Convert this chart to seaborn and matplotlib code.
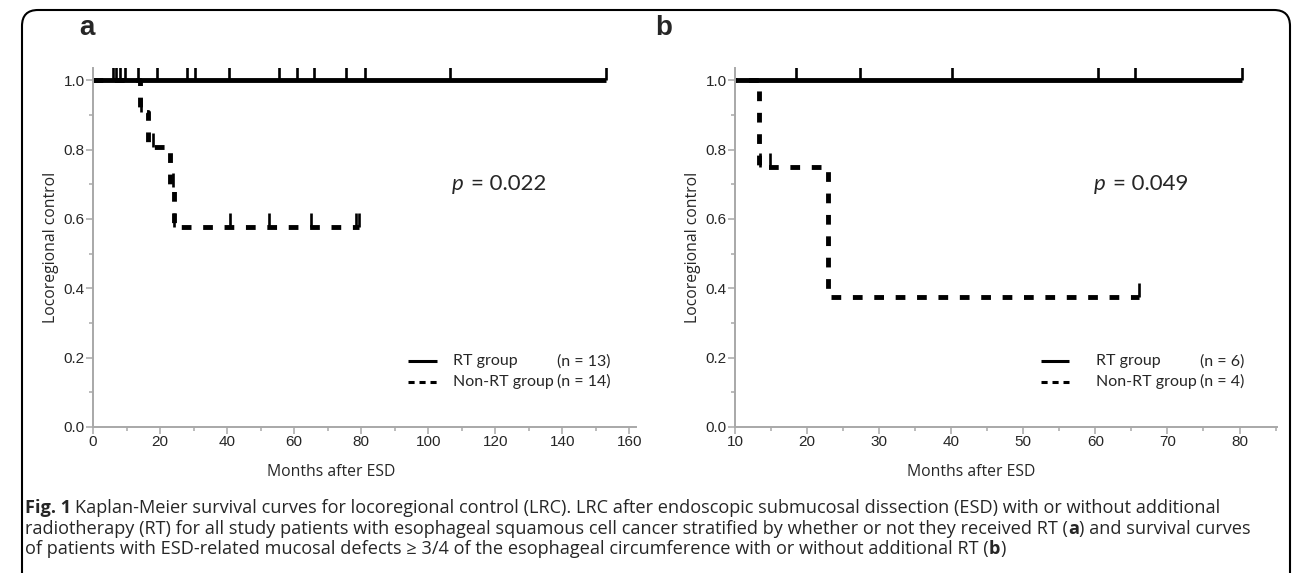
import numpy as np
import pandas as pd
import matplotlib
matplotlib.use("Agg")
import matplotlib.pyplot as plt
import seaborn as sns
from matplotlib.patches import FancyBboxPatch
from matplotlib.transforms import IdentityTransform
from matplotlib.ticker import MultipleLocator, FormatStrFormatter

# panel a: all patients
a_rt_time = [0, 153]
a_rt_surv = [1.0, 1.0]
a_rt_cens = [7, 13.5, 19, 28, 30.5, 40.5, 55.5, 61, 66, 75.5, 81, 106.5, 153]
a_non_time = [0, 13.9, 16.5, 23.0, 24.2, 79.3]
a_non_surv = [1.0, 0.909, 0.808, 0.693, 0.577, 0.577]
a_non_cens = [6, 8, 9.5, 14.2, 17.8, 23.8, 24.2, 40.9, 52.6, 65, 78.5, 79.3]
a_n = {"RT": 13, "Non-RT": 14}
a_p = "0.022"

# panel b: mucosal defects >= 3/4
b_rt_time = [0, 80.3]
b_rt_surv = [1.0, 1.0]
b_rt_cens = [18.5, 27.4, 40.1, 60.3, 65.5, 80.3]
b_non_time = [0, 13.3, 22.9, 66]
b_non_surv = [1.0, 0.75, 0.375, 0.375]
b_non_cens = [13.4, 14.9, 66]
b_n = {"RT": 6, "Non-RT": 4}
b_p = "0.049"

caption = [
    "Kaplan-Meier survival curves for locoregional control (LRC). LRC after endoscopic submucosal dissection (ESD) with or without additional",
    "radiotherapy (RT) for all study patients with esophageal squamous cell cancer stratified by whether or not they received RT (",
    "of patients with ESD-related mucosal defects \u2265 3/4 of the esophageal circumference with or without additional RT (",
]

sns.set_style("white")
plt.rcParams["font.family"] = ["Liberation Sans", "DejaVu Sans"]
capfont = ["Open Sans", "DejaVu Sans"]
legfont = ["Lato", "DejaVu Sans"]

fig = plt.figure(figsize=(12.93, 5.73), dpi=100)
W, H = 1293, 573
r = fig.canvas.get_renderer()


def fit(t, target, vertical=False):
    bb = t.get_window_extent(r)
    w = bb.height if vertical else bb.width
    t.set_fontsize(t.get_fontsize() * target / w)


def surv_at(times, surv, t):
    i = np.searchsorted(times, t, side="right") - 1
    return np.asarray(surv)[i]


def draw_panel(ax, rt_t, rt_s, rt_c, non_t, non_s, non_c):
    df = pd.concat([
        pd.DataFrame({"t": rt_t, "s": rt_s, "group": "RT"}),
        pd.DataFrame({"t": non_t, "s": non_s, "group": "Non-RT"}),
    ], ignore_index=True)
    sns.lineplot(data=df, x="t", y="s", style="group", units="group",
                 dashes={"RT": "", "Non-RT": (2.0, 2.4)}, color="black",
                 lw=3.5, drawstyle="steps-post", estimator=None, sort=False,
                 legend=False, ax=ax, dash_capstyle="butt", solid_capstyle="butt")
    for t, s, c in [(rt_t, rt_s, rt_c), (non_t, non_s, non_c)]:
        ys = np.array([surv_at(t, s, x) for x in c])
        ax.vlines(c, ys, ys + 0.04, colors="black", lw=1.9)


def style_axes(ax, xlim, xmaj, xmin, xlab_pos):
    ax.set_xlim(*xlim)
    ax.set_ylim(0, 1.035)
    ax.xaxis.set_major_locator(MultipleLocator(xmaj))
    ax.xaxis.set_minor_locator(MultipleLocator(xmin))
    ax.yaxis.set_major_locator(MultipleLocator(0.2))
    ax.yaxis.set_minor_locator(MultipleLocator(0.1))
    ax.yaxis.set_major_formatter(FormatStrFormatter("%.1f"))
    ax.xaxis.set_major_formatter(FormatStrFormatter("%d"))
    for side in ["top", "right"]:
        ax.spines[side].set_visible(False)
    for side in ["left", "bottom"]:
        ax.spines[side].set_color("#a8a8a8")
        ax.spines[side].set_linewidth(1.4)
    ax.tick_params(which="both", direction="out", color="#a8a8a8", width=1.1,
                   bottom=True, left=True, labelsize=11, pad=1)
    ax.tick_params(which="major", length=5)
    ax.tick_params(which="minor", length=3)
    ax.set_xlabel("Months after ESD", family=capfont, fontsize=10)
    ax.set_ylabel("Locoregional control", family=capfont, fontsize=10)
    ax.xaxis.set_label_coords(xlab_pos, -0.125)
    ax.yaxis.set_label_coords(-0.077, 0.5)
    ax.xaxis.label.set_va("center")
    ax.yaxis.label.set_va("center")


def legend_and_p(ax, n, p, x_line, x_text, x_n, x_p):
    rows = [("RT", "RT group", 0.19, None), ("Non-RT", "Non-RT group", 0.13, (2.0, 1.6))]
    for key, lab, y, ds in rows:
        ln, = ax.plot(x_line, [y, y], color="black", lw=2.2, solid_capstyle="butt",
                      dash_capstyle="butt")
        if ds:
            ln.set_dashes(ds)
        ax.text(x_text, y, lab, family=legfont, fontsize=11.5, va="center")
        ax.text(x_n, y, f"(n = {n[key]})", family=legfont, fontsize=11.5, va="center")
    ax.text(x_p, 0.70, "p", family=legfont, style="italic", fontsize=16, va="center")
    ax.annotate(f"= {p}", (x_p, 0.70), xytext=(14, 0), textcoords="offset points",
                family=legfont, fontsize=16, va="center")


def rect(l, rr, top, bot):
    return [l / W, 1 - bot / H, (rr - l) / W, (bot - top) / H]

ax_a = fig.add_axes(rect(93, 636, 68, 427))
ax_b = fig.add_axes(rect(735, 1277, 68, 427))

draw_panel(ax_a, a_rt_time, a_rt_surv, a_rt_cens, a_non_time, a_non_surv, a_non_cens)
style_axes(ax_a, (0, 162), 20, 10, 0.438)
legend_and_p(ax_a, a_n, a_p, [94, 102.5], 107.5, 138.5, 107)

draw_panel(ax_b, b_rt_time, b_rt_surv, b_rt_cens, b_non_time, b_non_surv, b_non_cens)
style_axes(ax_b, (10, 85.2), 10, 5, 0.435)
legend_and_p(ax_b, b_n, b_p, [52.5, 56.4], 60.1, 74.5, 59.8)

fig.canvas.draw()
for ax in (ax_a, ax_b):
    fit(ax.xaxis.label, 128)
    fit(ax.yaxis.label, 150, vertical=True)

# panel letters
fig.text(79 / W, 1 - 28 / H, "a", fontsize=20, fontweight="bold", va="center")
fig.text(655 / W, 1 - 28 / H, "b", fontsize=20, fontweight="bold", va="center")

# caption, sized so the longest line spans the box
cap_x = 25
cap_y = [508, 529, 549]
probe = fig.text(0, 0, caption[1] + "a) and survival curves", family=capfont, fontsize=12)
fig.canvas.draw()
fs = 12 * 1218 / probe.get_window_extent(r).width
probe.remove()


def put(x, y, s, bold=False):
    t = fig.text(x / W, 1 - y / H, s, family=capfont, fontsize=fs,
                 fontweight="bold" if bold else "normal", va="center")
    fig.canvas.draw()
    return x + t.get_window_extent(r).width

x = put(cap_x, cap_y[0], "Fig. 1", bold=True)
put(x + fs * 0.3, cap_y[0], caption[0])
x = put(cap_x, cap_y[1], caption[1])
x = put(x, cap_y[1], "a", bold=True)
put(x, cap_y[1], ") and survival curves")
x = put(cap_x, cap_y[2], caption[2])
x = put(x, cap_y[2], "b", bold=True)
put(x, cap_y[2], ")")

# rounded frame
frame = FancyBboxPatch((22, -40), 1268, 603, boxstyle="round,pad=0,rounding_size=16",
                       transform=IdentityTransform(), fill=False, edgecolor="black", lw=1.5)
fig.patches.append(frame)

fig.savefig("out.png", dpi=100)
